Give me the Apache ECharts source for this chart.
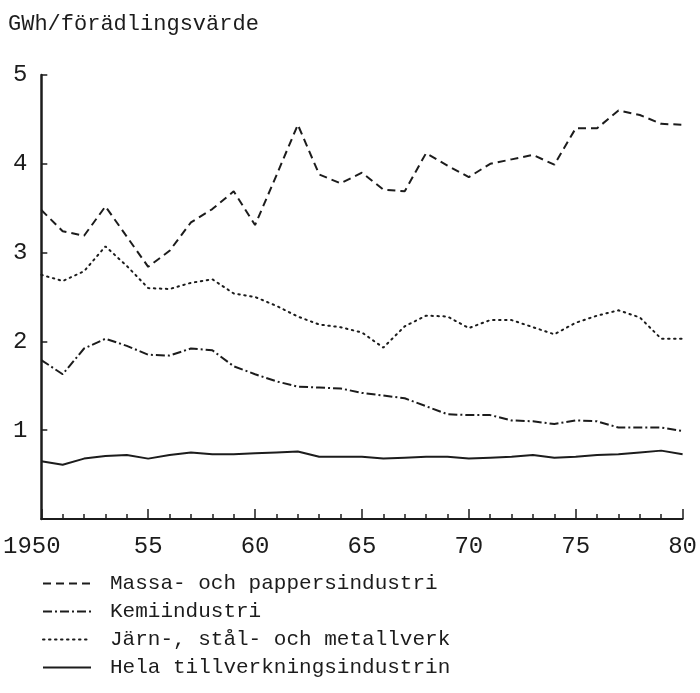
<!DOCTYPE html>
<html>
<head>
<meta charset="utf-8">
<script src="https://cdn.jsdelivr.net/npm/echarts@6/dist/echarts.min.js"></script>
<style>
  html, body { margin: 0; padding: 0; background: #fff; }
  #main { width: 700px; height: 693px; }
</style>
</head>
<body>
<div id="main"></div>
<script>
var years = [1950,1951,1952,1953,1954,1955,1956,1957,1958,1959,1960,1961,1962,1963,1964,1965,
	1966,1967,1968,1969,1970,1971,1972,1973,1974,1975,1976,1977,1978,1979,1980]

var massa = [3.48,3.24,3.19,3.52,3.18,2.84,3.02,3.34,3.49,3.69,3.31,3.87,4.44,3.88,3.78,3.90,
	3.71,3.69,4.12,3.98,3.85,4.00,4.05,4.10,3.99,4.40,4.40,4.60,4.55,4.45,4.44]
var kemi = [1.79,1.63,1.92,2.03,1.95,1.85,1.84,1.92,1.90,1.72,1.63,1.55,1.49,1.48,1.47,1.42,
	1.39,1.36,1.27,1.18,1.17,1.17,1.11,1.10,1.07,1.11,1.10,1.03,1.03,1.03,0.99]
var jarn = [2.75,2.68,2.79,3.07,2.85,2.60,2.59,2.66,2.70,2.54,2.50,2.40,2.28,2.19,2.16,2.10,
	1.93,2.17,2.29,2.28,2.15,2.24,2.24,2.16,2.08,2.21,2.29,2.35,2.27,2.03,2.03]
var hela = [0.65,0.61,0.68,0.71,0.72,0.68,0.72,0.75,0.73,0.73,0.74,0.75,0.76,0.70,0.70,0.70,
	0.68,0.69,0.70,0.70,0.68,0.69,0.70,0.72,0.69,0.70,0.72,0.73,0.75,0.77,0.73]

var names = ['Massa- och pappersindustri','Kemiindustri','Järn-, stål- och metallverk','Hela tillverkningsindustrin']

var ink = '#1c1c1c',
	font = 'Liberation Mono'

function pairs(vals){
	return years.map(function(y, i){ return [y, vals[i]] })
}

function line(name, vals, type, cap){
	return {
		name: name,
		type: 'line',
		data: pairs(vals),
		symbol: 'none',
		smooth: false,
		lineStyle: { color: ink, width: 2, type: type, cap: cap || 'butt' },
		itemStyle: { color: ink },
		z: 3
	}
}

var chart = echarts.init(document.getElementById('main'))

chart.setOption({
	animation: false,
	backgroundColor: '#fff',
	title: {
		text: 'GWh/förädlingsvärde',
		left: 3, top: 8,
		textStyle: { fontFamily: font, fontSize: 22, fontWeight: 'normal', color: ink }
	},
	grid: { left: 39.5, right: 14.5, top: 75, bottom: 174 },
	legend: {
		orient: 'vertical',
		left: 37, top: 568,
		itemWidth: 48, itemHeight: 14, itemGap: 7,
		data: names,
		itemStyle: { opacity: 0 },
		textStyle: { fontFamily: font, fontSize: 21, lineHeight: 21, color: ink, padding: [0, 0, 0, 14] }
	},
	xAxis: {
		type: 'value',
		min: 1950, max: 1980, interval: 5,
		axisLine: { lineStyle: { color: ink, width: 2 } },
		axisTick: { inside: true, length: 10, lineStyle: { color: ink, width: 1.5 } },
		minorTick: { show: true, splitNumber: 5, length: 5, lineStyle: { color: ink, width: 1.5 } },
		splitLine: { show: false },
		axisLabel: {
			margin: 16,
			fontFamily: font, fontSize: 24, color: ink,
			formatter: function(v){ return v === 1950 ? '{a|1950}' : String(v).slice(2) },
			rich: { a: { fontFamily: font, fontSize: 24, color: ink, padding: [0, 19, 0, 0] } }
		}
	},
	yAxis: {
		type: 'value',
		min: 0, max: 5, interval: 1,
		axisLine: { show: true, lineStyle: { color: ink, width: 2.5 } },
		axisTick: { show: true, inside: true, length: 6, lineStyle: { color: ink, width: 1.5 } },
		splitLine: { show: false },
		axisLabel: {
			margin: 14,
			fontFamily: font, fontSize: 24, color: ink,
			formatter: function(v){ return v === 0 ? '' : String(v) }
		}
	},
	series: [
		line(names[0], massa, [8, 5]),
		line(names[1], kemi, [9, 3, 2, 3]),
		line(names[2], jarn, [1.5, 4.5], 'round'),
		line(names[3], hela, 'solid')
	]
})
</script>
</body>
</html>
